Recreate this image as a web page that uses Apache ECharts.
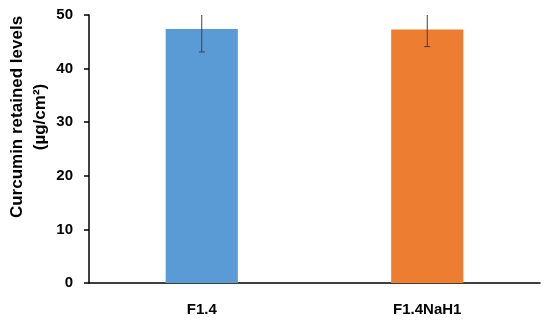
<!DOCTYPE html>
<html><head><meta charset="utf-8">
<script src="https://cdn.jsdelivr.net/npm/echarts@6/dist/echarts.min.js"></script>
<style>html,body{margin:0;padding:0;background:#fff}#c{width:550px;height:324px}</style>
</head><body><div id="c"></div>
<script>
const categories = ['F1.4', 'F1.4NaH1'];
const values = [47.4, 47.3];
const errors = [4.3, 3.2];
const colors = ['#5B9BD5', '#ED7D31'];
const yTicks = [0, 10, 20, 30, 40, 50];

const chart = echarts.init(document.getElementById('c'));
const font = 'Liberation Sans, Arial, sans-serif';
chart.setOption({
  animation: false,
  grid: {left: 89, right: 10, top: 15, bottom: 41, outerBoundsMode: 'none', containLabel: false},
  xAxis: {
    type: 'category', data: categories,
    axisLine: {lineStyle: {color: '#000', width: 1.5}},
    axisTick: {show: false},
    axisLabel: {color: '#000', fontWeight: 'bold', fontSize: 15, fontFamily: font, margin: 19}
  },
  yAxis: {
    type: 'value', min: yTicks[0], max: yTicks[yTicks.length-1], interval: 10,
    name: 'Curcumin retained levels\n(µg/cm²)', nameLocation: 'middle', nameGap: 37, nameMoveOverlap: false,
    nameTextStyle: {color: '#000', fontWeight: 'bold', fontSize: 17, fontFamily: font, lineHeight: 23, padding: [0, 0, 0, 64]},
    axisLine: {show: true, lineStyle: {color: '#000', width: 1.5}},
    axisTick: {show: true, length: 5, lineStyle: {color: '#000', width: 1.5}},
    splitLine: {show: false},
    axisLabel: {color: '#000', fontWeight: 'bold', fontSize: 15, fontFamily: font, margin: 16}
  },
  series: [{
    type: 'bar', barWidth: '32%',
    data: values.map((v, i) => ({value: v, itemStyle: {color: colors[i]}}))
  }, {
    type: 'custom', clip: true, z: 10,
    data: values.map((v, i) => [i, v - errors[i], v + errors[i]]),
    renderItem: function (params, api) {
      const lo = api.coord([api.value(0), api.value(1)]);
      const hi = api.coord([api.value(0), api.value(2)]);
      const w = 3;
      const st = {stroke: '#404040', lineWidth: 1};
      return {type: 'group', children: [
        {type: 'line', shape: {x1: lo[0], y1: lo[1], x2: hi[0], y2: hi[1]}, style: st},
        {type: 'line', shape: {x1: lo[0]-w, y1: lo[1], x2: lo[0]+w, y2: lo[1]}, style: st},
        {type: 'line', shape: {x1: hi[0]-w, y1: hi[1], x2: hi[0]+w, y2: hi[1]}, style: st}
      ]};
    }
  }]
});
</script></body></html>
